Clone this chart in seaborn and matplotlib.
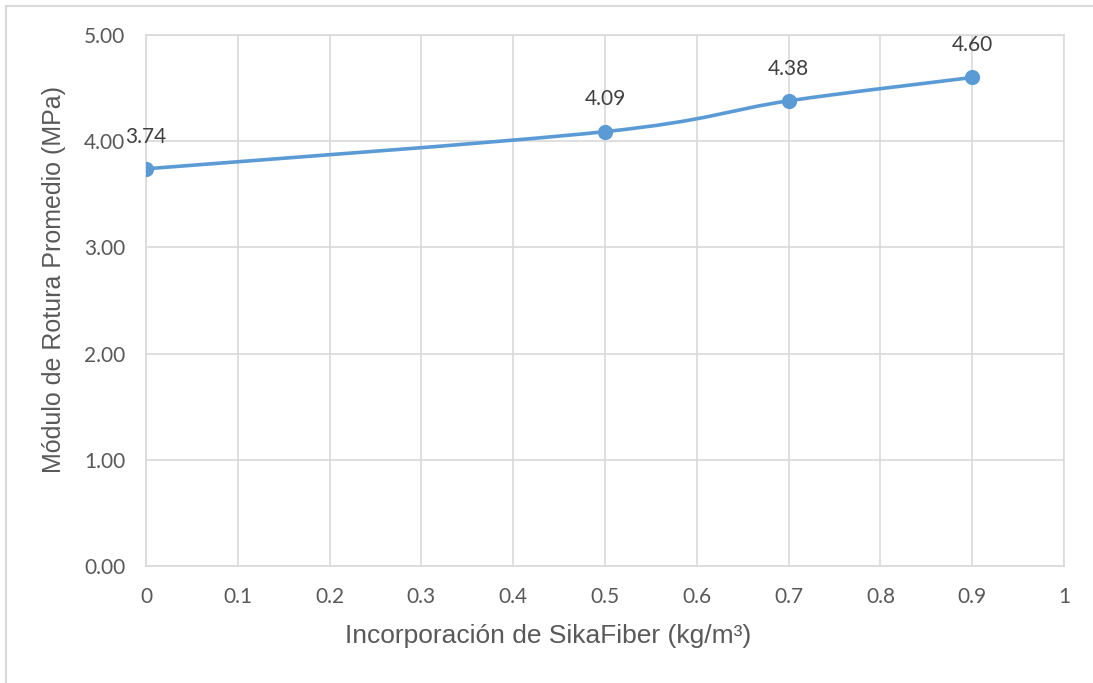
import numpy as np
import pandas as pd
import seaborn as sns
import matplotlib.pyplot as plt
from matplotlib.path import Path
from matplotlib.patches import PathPatch, Rectangle

# Dosage of SikaFiber and average modulus of rupture
dosis = [0.0, 0.5, 0.7, 0.9]
modulo = [3.74, 4.09, 4.38, 4.60]
x_ticks = [0, 0.1, 0.2, 0.3, 0.4, 0.5, 0.6, 0.7, 0.8, 0.9, 1]
x_tick_labels = ["0", "0.1", "0.2", "0.3", "0.4", "0.5", "0.6", "0.7", "0.8", "0.9", "1"]
y_ticks = [0.0, 1.0, 2.0, 3.0, 4.0, 5.0]

df = pd.DataFrame({"dosis": dosis, "modulo": modulo})

sns.set_theme(style="white")
plt.rcParams["font.family"] = ["Lato", "DejaVu Sans"]

BLUE = "#5B9BD5"
GRID = "#D9D9D9"
TEXT = "#595959"

fig = plt.figure(figsize=(10.93, 6.83), dpi=100)
ax = fig.add_axes([146 / 1093, 1 - 566 / 683, (1064 - 146) / 1093, (566 - 35) / 683])

# outer chart frame
fig.patches.append(Rectangle((6 / 1093, -0.05), 1.2, 1 - 6 / 683 + 0.05,
                             transform=fig.transFigure, fill=False,
                             edgecolor=GRID, linewidth=1.5, zorder=0))

ax.set_xlim(0, 1)
ax.set_ylim(0, 5)
ax.set_xticks(x_ticks)
ax.set_xticklabels(x_tick_labels)
ax.set_yticks(y_ticks)
ax.set_yticklabels([f"{v:.2f}" for v in y_ticks])
ax.grid(True, color=GRID, linewidth=1.2)
ax.set_axisbelow(True)
for s in ax.spines.values():
    s.set_color(GRID)
    s.set_linewidth(1.2)
ax.tick_params(axis="both", length=0, labelsize=15, colors=TEXT)
ax.tick_params(axis="x", pad=15)
ax.tick_params(axis="y", pad=15)

# smoothed line through the points (cubic Bezier segments)
pts = df[["dosis", "modulo"]].to_numpy()
ext = np.vstack([pts[0], pts, pts[-1]])
verts = [tuple(pts[0])]
codes = [Path.MOVETO]
for i in range(len(pts) - 1):
    p0, p1, p2, p3 = ext[i], ext[i + 1], ext[i + 2], ext[i + 3]
    c1 = p1 + (p2 - p0) / 6
    c2 = p2 - (p3 - p1) / 6
    verts += [tuple(c1), tuple(c2), tuple(p2)]
    codes += [Path.CURVE4] * 3
ax.add_patch(PathPatch(Path(verts, codes), facecolor="none", edgecolor=BLUE,
                       linewidth=2.6, capstyle="round", zorder=3))

sns.scatterplot(data=df, x="dosis", y="modulo", ax=ax, color=BLUE, s=120,
                edgecolor=BLUE, linewidth=0, zorder=4, legend=False)

for xv, yv in zip(dosis, modulo):
    ax.annotate(f"{yv:.2f}", (xv, yv), xytext=(0, 16), textcoords="offset points",
                ha="center", va="bottom", fontsize=15, color="#404040", zorder=5,
                annotation_clip=False)

ax.set_xlabel("Incorporación de SikaFiber (kg/m³)", fontsize=19, color=TEXT,
              family=["Liberation Sans", "DejaVu Sans"], labelpad=12)
ax.set_ylabel("Módulo de Rotura Promedio (MPa)", fontsize=18, color=TEXT,
              family=["Liberation Sans", "DejaVu Sans"], labelpad=13)
ax.xaxis.label.set_x(0.438)
ax.yaxis.label.set_y(0.539)

fig.savefig("out.png", dpi=100)
